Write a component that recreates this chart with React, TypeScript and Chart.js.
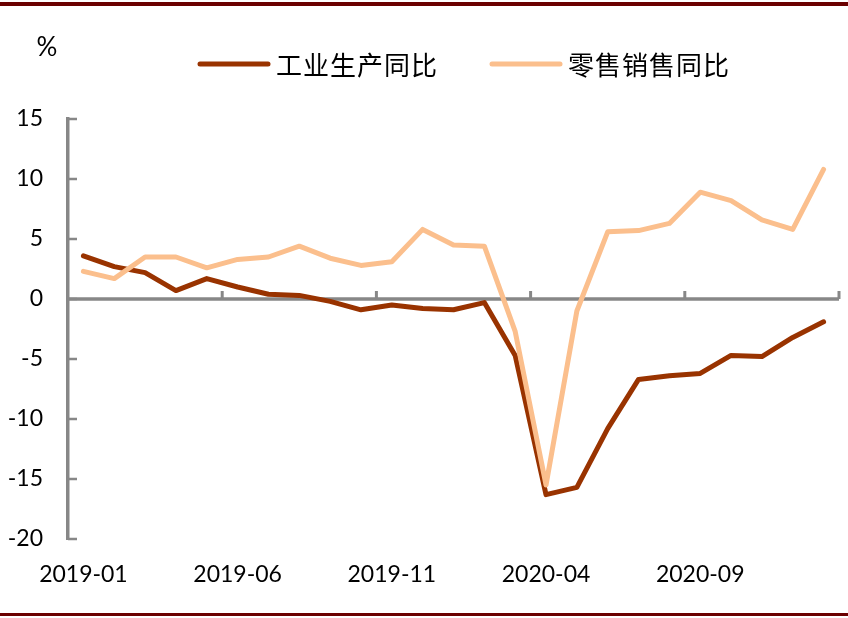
import React, { useEffect, useRef } from 'react';
import { Chart, registerables } from 'chart.js';

Chart.register(...registerables);

const months = [
  '2019-01', '2019-02', '2019-03', '2019-04', '2019-05', '2019-06',
  '2019-07', '2019-08', '2019-09', '2019-10', '2019-11', '2019-12',
  '2020-01', '2020-02', '2020-03', '2020-04', '2020-05', '2020-06',
  '2020-07', '2020-08', '2020-09', '2020-10', '2020-11', '2020-12',
  '2021-01',
];

const industrial = [
  3.6, 2.7, 2.2, 0.7, 1.7, 1.0, 0.4, 0.3, -0.2, -0.9, -0.5, -0.8,
  -0.9, -0.3, -4.7, -16.3, -15.7, -10.8, -6.7, -6.4, -6.2, -4.7, -4.8, -3.2,
  -1.9,
];

const retail = [
  2.3, 1.7, 3.5, 3.5, 2.6, 3.3, 3.5, 4.4, 3.4, 2.8, 3.1, 5.8,
  4.5, 4.4, -2.7, -15.5, -1.0, 5.6, 5.7, 6.3, 8.9, 8.2, 6.6, 5.8,
  10.8,
];

const yTicks = [-20, -15, -10, -5, 0, 5, 10, 15];
const seriesNames = ['工业生产同比', '零售销售同比'];
const unitLabel = '%';

const DARK = '#993300';
const LIGHT = '#FBBF8D';
const AXIS = '#878787';
const FRAME = '#6B0000';

const axisPlugin = {
  id: 'axisDecor',
  beforeDatasetsDraw(chart: any) {
    const { ctx, chartArea, scales } = chart;
    const xs = scales.x;
    const ys = scales.y;
    ctx.save();
    ctx.strokeStyle = AXIS;
    ctx.lineCap = 'butt';
    ctx.lineWidth = 2.5;
    for (const v of yTicks) {
      const py = ys.getPixelForValue(v);
      ctx.beginPath();
      ctx.moveTo(chartArea.left, py);
      ctx.lineTo(chartArea.left + 9, py);
      ctx.stroke();
    }
    const y0 = ys.getPixelForValue(0);
    ctx.lineWidth = 3.5;
    ctx.beginPath();
    ctx.moveTo(chartArea.left, y0);
    ctx.lineTo(chartArea.right, y0);
    ctx.stroke();
    ctx.lineWidth = 3;
    for (let i = 5; i <= months.length; i += 5) {
      const px = xs.getPixelForValue(i - 0.5);
      ctx.beginPath();
      ctx.moveTo(px, y0);
      ctx.lineTo(px, y0 - 8);
      ctx.stroke();
    }
    ctx.restore();
  },
  afterDraw(chart: any) {
    const { ctx } = chart;
    ctx.save();
    ctx.fillStyle = FRAME;
    ctx.fillRect(0, 2, chart.width, 4);
    ctx.fillRect(0, 613, chart.width, 3);
    ctx.fillStyle = '#000';
    ctx.font = '26px Lato';
    ctx.textAlign = 'center';
    ctx.textBaseline = 'middle';
    ctx.fillText(unitLabel, 47, 48);
    const ds = chart.data.datasets;
    let x = 198;
    const ly = 64;
    ctx.font = '26px "Noto Sans CJK SC"';
    ctx.textAlign = 'left';
    (ctx as any).letterSpacing = '1px';
    ds.forEach((d: any) => {
      ctx.strokeStyle = d.borderColor;
      ctx.lineWidth = 5;
      ctx.lineCap = 'round';
      ctx.beginPath();
      ctx.moveTo(x + 2, ly);
      ctx.lineTo(x + 70, ly);
      ctx.stroke();
      x += 78;
      ctx.fillStyle = '#000';
      ctx.fillText(d.label, x, ly + 1);
      const w = ctx.measureText(d.label).width;
      x += w + 52;
    });
    ctx.restore();
  },
};

export default function App() {
  const ref = useRef<HTMLCanvasElement | null>(null);

  useEffect(() => {
    if (!ref.current) return;
    const chart = new Chart(ref.current, {
      type: 'line',
      data: {
        labels: months,
        datasets: [
          {
            label: seriesNames[0],
            data: industrial,
            borderColor: DARK,
            backgroundColor: DARK,
            borderWidth: 5,
            pointRadius: 0,
            tension: 0,
            borderJoinStyle: 'round',
            borderCapStyle: 'round',
            order: 2,
          },
          {
            label: seriesNames[1],
            data: retail,
            borderColor: LIGHT,
            backgroundColor: LIGHT,
            borderWidth: 5,
            pointRadius: 0,
            tension: 0,
            borderJoinStyle: 'round',
            borderCapStyle: 'round',
            order: 1,
          },
        ],
      },
      options: {
        responsive: false,
        animation: false,
        layout: { padding: { left: 8, right: 9, top: 119, bottom: 29 } },
        plugins: {
          legend: { display: false },
          tooltip: { enabled: false },
        },
        scales: {
          x: {
            type: 'category',
            offset: true,
            grid: { display: false, drawTicks: false },
            border: { display: false },
            ticks: {
              autoSkip: false,
              maxRotation: 0,
              minRotation: 0,
              padding: 22,
              color: '#000',
              font: { family: 'Lato', size: 23 },
              callback: (_v: any, i: number) => (i % 5 === 0 ? months[i] : ''),
            },
            afterFit: (s: any) => { s.height = 50; },
          },
          y: {
            min: -20,
            max: 15,
            grid: { display: false, drawTicks: false },
            border: { display: true, color: AXIS, width: 3.5 },
            ticks: {
              stepSize: 5,
              padding: 25,
              color: '#000',
              font: { family: 'Lato', size: 23 },
            },
            afterFit: (s: any) => { s.width = 60; },
          },
        },
      },
      plugins: [axisPlugin],
    });
    return () => chart.destroy();
  }, []);

  return (
    <div style={{ position: 'absolute', left: 0, top: 0, width: 848, height: 618 }}>
      <canvas ref={ref} width={848} height={618} />
    </div>
  );
}
